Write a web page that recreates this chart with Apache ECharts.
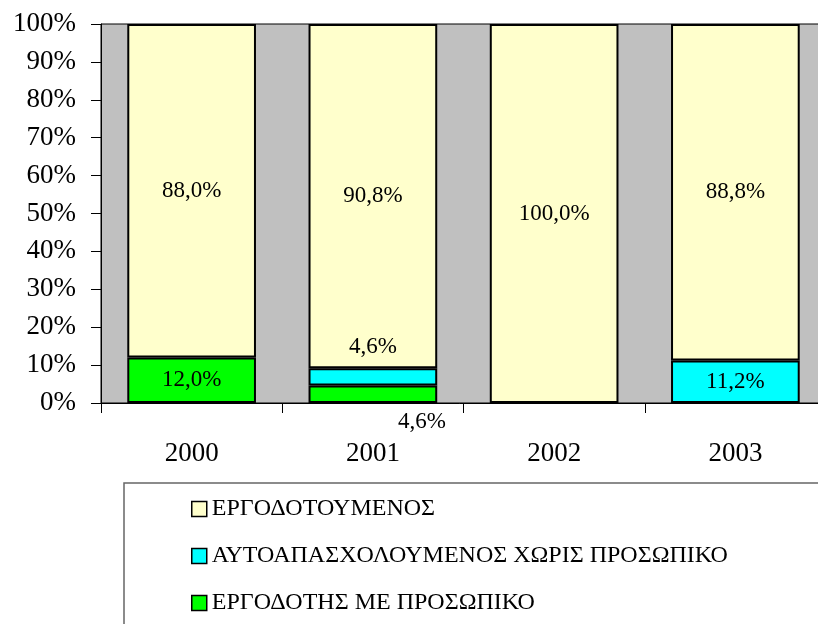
<!DOCTYPE html>
<html>
<head>
<meta charset="utf-8">
<script src="https://cdn.jsdelivr.net/npm/echarts@6/dist/echarts.min.js"></script>
<style>
  html, body { margin: 0; padding: 0; background: #fff; }
  #chart { width: 818px; height: 624px; }
</style>
</head>
<body>
<div id="chart"></div>
<script>
// Share of each employment status per year (percent of total)
const years = ['2000', '2001', '2002', '2003'];
const employeeShare = [88.0, 90.8, 100.0, 88.8];      // ΕΡΓΟΔΟΤΟΥΜΕΝΟΣ
const selfEmployedShare = [0, 4.6, 0, 11.2];          // ΑΥΤΟΑΠΑΣΧΟΛΟΥΜΕΝΟΣ ΧΩΡΙΣ ΠΡΟΣΩΠΙΚΟ
const employerShare = [12.0, 4.6, 0, 0];              // ΕΡΓΟΔΟΤΗΣ ΜΕ ΠΡΟΣΩΠΙΚΟ
const seriesNames = ['ΕΡΓΟΔΟΤΟΥΜΕΝΟΣ', 'ΑΥΤΟΑΠΑΣΧΟΛΟΥΜΕΝΟΣ ΧΩΡΙΣ ΠΡΟΣΩΠΙΚΟ', 'ΕΡΓΟΔΟΤΗΣ ΜΕ ΠΡΟΣΩΠΙΚΟ'];

const FONT = '"Liberation Serif", "Times New Roman", serif';

const fmtPct = v => v.toFixed(1).replace('.', ',') + '%';

// label placement tweaks for the crowded 2001 column
const labelOffsets = {
  'ΑΥΤΟΑΠΑΣΧΟΛΟΥΜΕΝΟΣ ΧΩΡΙΣ ΠΡΟΣΩΠΙΚΟ': { '2001': [0, -30] },
  'ΕΡΓΟΔΟΤΗΣ ΜΕ ΠΡΟΣΩΠΙΚΟ': { '2001': [49, 28] }
};

// empty segments are skipped so no zero-height outlines are drawn
function buildData(name, values) {
  return values.map((v, i) => {
    const off = (labelOffsets[name] || {})[years[i]];
    const item = { value: v === 0 ? '-' : v };
    if (off) item.label = { offset: off };
    return item;
  });
}

function barSeries(name, values, color) {
  return {
    name: name,
    type: 'bar',
    stack: 'total',
    barCategoryGap: '29%',
    data: buildData(name, values),
    itemStyle: { color: color, borderColor: '#000', borderWidth: 2 },
    label: {
      show: true,
      position: 'inside',
      fontFamily: FONT,
      fontSize: 23,
      color: '#000',
      formatter: p => (typeof p.value === 'number' && p.value > 0 ? fmtPct(p.value) : '')
    },
    emphasis: { disabled: true }
  };
}

const chart = echarts.init(document.getElementById('chart'), null, { renderer: 'canvas' });

chart.setOption({
  animation: false,
  backgroundColor: '#fff',
  grid: {
    left: 101, top: 24, width: 725, height: 379,
    show: true,
    backgroundColor: '#c0c0c0',
    borderColor: '#000',
    borderWidth: 1,
    containLabel: false,
    outerBoundsMode: 'none'
  },
  graphic: [{
    type: 'rect',
    z: -1,
    shape: { x: 124, y: 483, width: 760, height: 200 },
    style: { fill: '#fff', stroke: '#666', lineWidth: 1.5 }
  }],
  legend: {
    orient: 'vertical',
    left: 186,
    top: 492,
    itemWidth: 15,
    itemHeight: 15,
    itemGap: 23,
    icon: 'rect',
    data: seriesNames,
    textStyle: { fontFamily: FONT, fontSize: 24, color: '#000' },
    itemStyle: { borderColor: '#000', borderWidth: 1.5 },
    selectedMode: false
  },
  xAxis: {
    type: 'category',
    data: years,
    boundaryGap: true,
    axisLine: { show: true, lineStyle: { color: '#000', width: 1 } },
    axisTick: { show: true, alignWithLabel: false, length: 10, lineStyle: { color: '#000' } },
    axisLabel: { fontFamily: FONT, fontSize: 27, color: '#000', margin: 37 },
    splitLine: { show: false }
  },
  yAxis: {
    type: 'value',
    min: 0,
    max: 100,
    interval: 10,
    axisLine: { show: true, lineStyle: { color: '#000', width: 1 } },
    axisTick: { show: true, length: 10, lineStyle: { color: '#000' } },
    axisLabel: { fontFamily: FONT, fontSize: 27, color: '#000', margin: 25, formatter: '{value}%' },
    splitLine: { show: false }
  },
  series: [
    barSeries(seriesNames[2], employerShare, '#00ff00'),
    barSeries(seriesNames[1], selfEmployedShare, '#00ffff'),
    barSeries(seriesNames[0], employeeShare, '#ffffcc')
  ]
});
</script>
</body>
</html>
